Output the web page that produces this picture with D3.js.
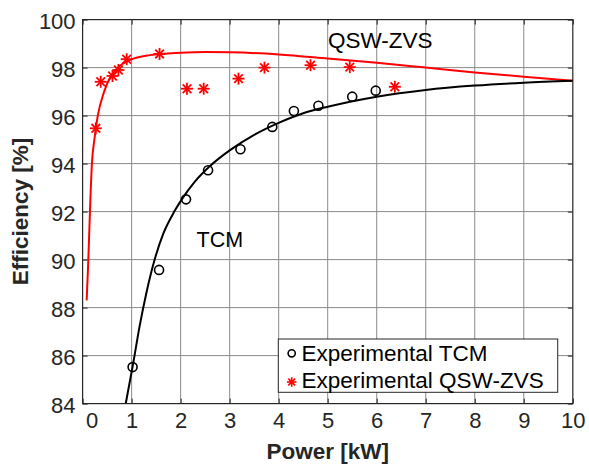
<!DOCTYPE html>
<html><head><meta charset="utf-8">
<script src="https://cdn.jsdelivr.net/npm/d3@7"></script>
<style>body{margin:0;background:#fff}svg{display:block}</style>
</head><body>
<svg id="c" width="589" height="467"></svg>
<script>
// ---- data ----
const xTicks = [0,1,2,3,4,5,6,7,8,9,10];
const yTicks = [84,86,88,90,92,94,96,98,100];
const tcmExpP   = [1.02,1.56,2.11,2.56,3.22,3.87,4.31,4.81,5.50,5.98];
const tcmExpEff = [85.52,89.57,92.51,93.72,94.60,95.53,96.19,96.41,96.79,97.04];
const qswExpP   = [0.27,0.37,0.61,0.73,0.90,1.57,2.13,2.47,3.18,3.71,4.65,5.45,6.37];
const qswExpEff = [95.47,97.41,97.65,97.90,98.35,98.57,97.12,97.12,97.54,98.00,98.10,98.02,97.20];
const qswCurveP   = [0.083,0.117,0.15,0.19,0.24,0.31,0.44,0.72,0.97,1.37,2.0,2.5,3.0,4.0,5.0,6.0,7.0,8.0,9.0,10];
const qswCurveEff = [88.3,90,92,94,95,96,97,98,98.32,98.52,98.62,98.65,98.64,98.55,98.38,98.2,98.0,97.8,97.62,97.45];
const tcmCurveP   = [0.88,1.02,1.17,1.3,1.47,1.65,1.87,2.02,2.29,2.6,3.0,3.5,4.0,4.5,5.0,6.0,7.0,8.0,9.0,10];
const tcmCurveEff = [84,85.54,87.3,88.6,90,91.1,92,92.5,93.25,93.9,94.55,95.2,95.7,96.1,96.37,96.79,97.07,97.25,97.37,97.45];
const legendLabels = ["Experimental TCM","Experimental QSW-ZVS"];

// ---- layout ----
const svg = d3.select("#c");
const L = 82.6, R = 572.8, T = 19.6, B = 403.6;
const x = d3.scaleLinear().domain([0,10]).range([L,R]);
const y = d3.scaleLinear().domain([84,100]).range([B,T]);
const font = "'Liberation Sans', Arial, Helvetica, sans-serif";
const axisCol = "#262626";

// grid
const g = svg.append("g");
g.selectAll(".gx").data(xTicks.slice(1,-1)).enter().append("line")
  .attr("x1",d=>x(d)).attr("x2",d=>x(d)).attr("y1",T).attr("y2",B)
  .attr("stroke","#8a8a8a").attr("stroke-width",1);
g.selectAll(".gy").data(yTicks.slice(1,-1)).enter().append("line")
  .attr("y1",d=>y(d)).attr("y2",d=>y(d)).attr("x1",L).attr("x2",R)
  .attr("stroke","#8a8a8a").attr("stroke-width",1);

// axes with inner ticks
const ax = svg.append("g");
function inner(axisFn, tr){
  const a = ax.append("g").attr("transform",tr).call(axisFn);
  a.select(".domain").remove();
  a.selectAll("line").attr("stroke",axisCol).attr("stroke-width",1);
  return a;
}
const bottom = inner(d3.axisBottom(x).tickValues(xTicks).tickSize(-5).tickPadding(9), `translate(0,${B})`);
bottom.selectAll("text").attr("font-family",font).attr("font-size",22).attr("fill",axisCol)
  .attr("dx",(d)=>d===0?9:0);
inner(d3.axisTop(x).tickValues(xTicks).tickSize(-5).tickFormat(""), `translate(0,${T})`);
const left = inner(d3.axisLeft(y).tickValues(yTicks).tickSize(-5).tickPadding(7), `translate(${L},0)`);
left.selectAll("text").attr("font-family",font).attr("font-size",22).attr("fill",axisCol).attr("dy","0.39em");
inner(d3.axisRight(y).tickValues(yTicks).tickSize(-5).tickFormat(""), `translate(${R},0)`);

// box
svg.append("rect").attr("x",L).attr("y",T).attr("width",R-L).attr("height",B-T)
  .attr("fill","none").attr("stroke",axisCol).attr("stroke-width",1.2);

// clip
svg.append("clipPath").attr("id","clip").append("rect")
  .attr("x",L).attr("y",T).attr("width",R-L).attr("height",B-T);

const line = d3.line().x(d=>x(d[0])).y(d=>y(d[1])).curve(d3.curveMonotoneX);
const plot = svg.append("g").attr("clip-path","url(#clip)");
plot.append("path").datum(qswCurveP.map((p,i)=>[p,qswCurveEff[i]]))
  .attr("d",line).attr("fill","none").attr("stroke","#ff0000").attr("stroke-width",2);
plot.append("path").datum(tcmCurveP.map((p,i)=>[p,tcmCurveEff[i]]))
  .attr("d",line).attr("fill","none").attr("stroke","#000").attr("stroke-width",2);

// markers
function star(sel, cx, cy, s, w){
  const gg = sel.append("g").attr("transform",`translate(${cx},${cy})`)
    .attr("stroke","#ff0000").attr("stroke-width",w).attr("stroke-linecap","butt");
  const d = s/2, e = s/2*0.72;
  gg.append("line").attr("x1",-d).attr("x2",d).attr("y1",0).attr("y2",0);
  gg.append("line").attr("x1",0).attr("x2",0).attr("y1",-d).attr("y2",d);
  gg.append("line").attr("x1",-e).attr("x2",e).attr("y1",-e).attr("y2",e);
  gg.append("line").attr("x1",-e).attr("x2",e).attr("y1",e).attr("y2",-e);
}
const mk = svg.append("g");
mk.selectAll("circle").data(tcmExpP.map((p,i)=>[p,tcmExpEff[i]])).enter().append("circle")
  .attr("cx",d=>x(d[0])).attr("cy",d=>y(d[1])).attr("r",4.5)
  .attr("fill","none").attr("stroke","#000").attr("stroke-width",1.6);
qswExpP.forEach((p,i)=>star(mk, x(p), y(qswExpEff[i]), 12, 1.8));

// annotations
svg.append("text").attr("x",196.5).attr("y",247.3).text("TCM")
  .attr("font-family",font).attr("font-size",21.5).attr("fill","#000");
svg.append("text").attr("x",328).attr("y",48.3).text("QSW-ZVS")
  .attr("font-family",font).attr("font-size",22.5).attr("fill","#000");

// axis labels
svg.append("text").attr("x",(L+R)/2).attr("y",458.5).attr("text-anchor","middle")
  .attr("font-family",font).attr("font-size",22.5).attr("font-weight","bold").attr("fill",axisCol)
  .text("Power [kW]");
svg.append("text").attr("transform",`translate(28,${(T+B)/2}) rotate(-90)`).attr("text-anchor","middle")
  .attr("font-family",font).attr("font-size",22.5).attr("font-weight","bold").attr("fill",axisCol)
  .text("Efficiency [%]");

// legend
const lg = svg.append("g");
lg.append("rect").attr("x",278.3).attr("y",339).attr("width",557.7-278.3).attr("height",392.3-339)
  .attr("fill","#fff").attr("stroke",axisCol).attr("stroke-width",1);
lg.append("circle").attr("cx",291.7).attr("cy",353.3).attr("r",3.6)
  .attr("fill","none").attr("stroke","#000").attr("stroke-width",1.6);
star(lg, 291.7, 382, 9.5, 1.6);
lg.selectAll("text").data(legendLabels).enter().append("text")
  .attr("x",301.5).attr("y",(d,i)=>[360.7,388.3][i]).text(d=>d)
  .attr("font-family",font).attr("font-size",22.5).attr("fill","#000");
</script>
</body></html>
